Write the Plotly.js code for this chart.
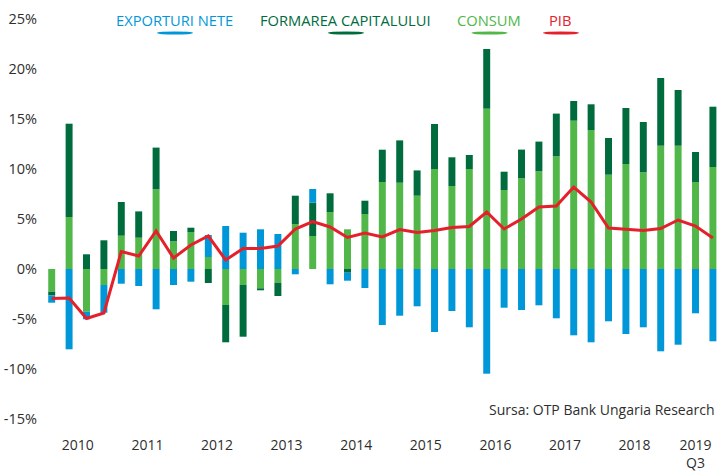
<!DOCTYPE html>
<html>
<head>
<meta charset="utf-8">
<script src="https://cdn.plot.ly/plotly-3.0.1.min.js"></script>
<style>
html,body{margin:0;padding:0;background:#fff;}
#chart{width:719px;height:471px;}
</style>
</head>
<body>
<div id="chart"></div>
<script>
// Quarters 2010 T1 .. 2019 T3
const categories = [
  "2010 T1","2010 T2","2010 T3","2010 T4",
  "2011 T1","2011 T2","2011 T3","2011 T4",
  "2012 T1","2012 T2","2012 T3","2012 T4",
  "2013 T1","2013 T2","2013 T3","2013 T4",
  "2014 T1","2014 T2","2014 T3","2014 T4",
  "2015 T1","2015 T2","2015 T3","2015 T4",
  "2016 T1","2016 T2","2016 T3","2016 T4",
  "2017 T1","2017 T2","2017 T3","2017 T4",
  "2018 T1","2018 T2","2018 T3","2018 T4",
  "2019 T1","2019 T2","2019 T3"
];

const exporturiNete = [
  -0.73, -8.03, -0.76, -2.77,
  -1.47, -1.70, -4.03, -1.60,
  -1.27,  2.20,  4.30,  3.63,
   3.97,  3.50, -0.53,  1.37,
  -1.53, -0.80, -1.90, -5.60,
  -4.67, -3.73, -6.30, -4.20,
  -5.83, -10.47, -3.87, -4.10,
  -3.63, -4.93, -6.63, -7.33,
  -5.23, -6.50, -5.83, -8.23,
  -7.57, -4.43, -7.23
];

const formareaCapitalului = [
  -0.37,  9.33,  1.47,  2.87,
   3.37,  2.63,  4.17,  1.03,
   0.43, -1.40, -3.73, -5.17,
  -0.20, -1.33,  2.83,  3.33,
   1.87, -0.37,  1.33,  3.23,
   4.23,  2.53,  4.50,  2.87,
   1.40,  5.97,  1.83,  2.87,
   2.97,  4.27,  1.97,  2.57,
   3.67,  5.60,  5.03,  6.77,
   5.57,  3.00,  6.03
];

const consum = [
  -2.27,  5.20, -4.27, -1.60,
   3.33,  3.13,  7.97,  2.77,
   3.70,  1.20, -3.60, -1.60,
  -1.93, -1.37,  4.50,  3.30,
   5.70,  3.97,  5.50,  8.70,
   8.63,  7.33, 10.00,  8.30,
  10.00, 16.03,  7.90,  9.07,
   9.77, 11.27, 14.83, 13.90,
   9.43, 10.50,  9.67, 12.33,
  12.33,  8.70, 10.20
];

const pib = [
  -2.95, -2.90, -4.95, -4.40,
   1.75,  1.30,  3.80,  1.10,
   2.40,  3.30,  0.90,  2.05,
   2.05,  2.30,  4.00,  4.75,
   4.20,  3.15,  3.60,  3.20,
   3.95,  3.65,  3.85,  4.15,
   4.25,  5.70,  4.00,  5.00,
   6.20,  6.30,  8.20,  6.70,
   4.10,  3.95,  3.85,  4.05,
   4.90,  4.30,  3.10
];

const yearLabels = ["2010","2011","2012","2013","2014","2015","2016","2017","2018","2019<br>Q3"];
const yTickVals = [-15,-10,-5,0,5,10,15,20,25];
const yTickText = ["-15%","-10%","-5%","0%","5%","10%","15%","20%","25%"];

const seriesNames = ["EXPORTURI NETE","FORMAREA CAPITALULUI","CONSUM","PIB"];
const colors = {exp:"#0097d9", fbcf:"#006b3d", cons:"#50b748", pib:"#e5202b"};

// x positions = index of each quarter
const xs = categories.map((c,i)=>i);
// year label position = centre of that year's quarters
const yearCenters = yearLabels.map(lbl=>{
  const y = lbl.slice(0,4);
  const idx = categories.map((c,i)=>c.startsWith(y)?i:-1).filter(i=>i>=0);
  return (idx[0]+idx[idx.length-1])/2;
});

const W=719, H=471, L=43, R=0, T=19, B=52;
const PW = W-L-R, PH = H-T-B;
const px2x = p => (p-L)/PW;
const py2y = p => (H-B-p)/PH;

const font = "Open Sans, Noto Sans, sans-serif";
const textCol = "#2e2e2e";

const barCommon = {type:"bar", x:xs, customdata:categories,
  hovertemplate:"%{customdata}: %{y:.1f}%<extra>%{fullData.name}</extra>"};

const traces = [
  Object.assign({}, barCommon, {name:seriesNames[2], y:consum, marker:{color:colors.cons}}),
  Object.assign({}, barCommon, {name:seriesNames[1], y:formareaCapitalului, marker:{color:colors.fbcf}}),
  Object.assign({}, barCommon, {name:seriesNames[0], y:exporturiNete, marker:{color:colors.exp}}),
  {type:"scatter", mode:"lines", name:seriesNames[3], x:xs, y:pib, customdata:categories,
   line:{color:colors.pib, width:3}, hovertemplate:"%{customdata}: %{y:.1f}%<extra>PIB</extra>"}
];

// custom legend (text + lens underline)
const legendItems = [
  {text:seriesNames[0], color:colors.exp, cx:174},
  {text:seriesNames[1], color:colors.fbcf, cx:345},
  {text:seriesNames[2], color:colors.cons, cx:488.5},
  {text:seriesNames[3], color:colors.pib, cx:560}
];
const annotations = legendItems.map(it=>({
  xref:"paper", yref:"paper", x:px2x(it.cx), y:py2y(20), xanchor:"center", yanchor:"middle",
  text:it.text, showarrow:false, font:{family:font, size:14.7, color:it.color}
}));
annotations.push({
  xref:"paper", yref:"paper", x:px2x(716), y:py2y(409), xanchor:"right", yanchor:"middle",
  text:"Sursa: OTP Bank Ungaria Research", showarrow:false,
  font:{family:font, size:14, color:textCol}
});
const shapes = legendItems.map(it=>({
  type:"circle", xref:"paper", yref:"paper",
  xsizemode:"pixel", ysizemode:"pixel",
  xanchor:px2x(it.cx+1), yanchor:py2y(33),
  x0:-18, x1:18, y0:-1.6, y1:1.6,
  fillcolor:it.color, line:{width:0}
}));

const layout = {
  width:W, height:H,
  margin:{l:L, r:R, t:T, b:B, pad:0},
  paper_bgcolor:"#ffffff", plot_bgcolor:"#ffffff",
  barmode:"relative", bargap:0.6,
  showlegend:false,
  font:{family:font, size:14, color:textCol},
  xaxis:{range:[-0.5,38.35], showgrid:false, zeroline:false, showline:false,
    tickmode:"array", tickvals:yearCenters, ticktext:yearLabels,
    ticks:"", ticklabelstandoff:16, tickfont:{family:font, size:14, color:textCol}, fixedrange:true},
  yaxis:{range:[-15,25], showgrid:false, zeroline:false, showline:false,
    tickmode:"array", tickvals:yTickVals, ticktext:yTickText,
    ticks:"", ticklabelstandoff:5, tickfont:{family:font, size:14.5, color:textCol}, fixedrange:true},
  annotations:annotations,
  shapes:shapes
};

Plotly.newPlot("chart", traces, layout, {displayModeBar:false, staticPlot:true});
</script>
</body>
</html>
